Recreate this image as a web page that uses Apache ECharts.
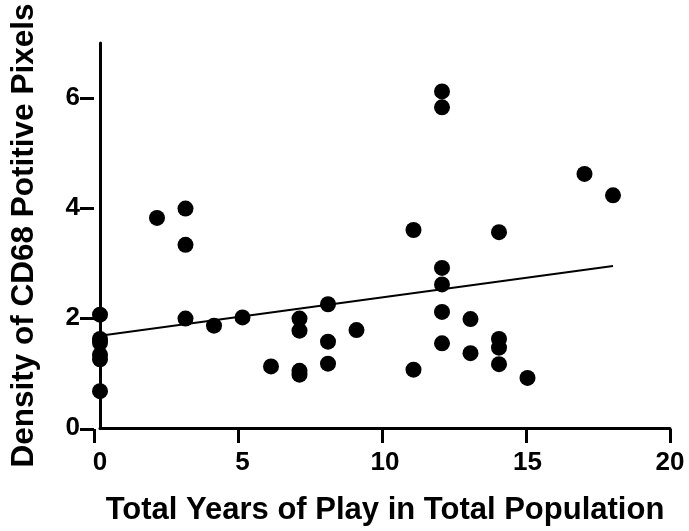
<!DOCTYPE html>
<html>
<head>
<meta charset="utf-8">
<script src="https://cdn.jsdelivr.net/npm/echarts@6/dist/echarts.min.js"></script>
<style>
html,body{margin:0;padding:0;background:#fff;}
#chart{width:689px;height:531px;}
</style>
</head>
<body>
<div id="chart"></div>
<script>
// Data
const yearsOfPlay = [0,0,0,0,0,0, 2, 3,3,3, 4, 5, 6, 7,7,7,7, 8,8,8, 9, 11,11, 12,12,12,12,12,12, 13,13, 14,14,14,14, 15, 17, 18];
const cd68Density = [2.06,1.62,1.55,1.33,1.25,0.67, 3.82, 3.99,3.33,1.99, 1.86, 2.01, 1.12, 1.99,1.77,1.04,0.97, 2.25,1.57,1.17, 1.78, 3.60,1.06, 6.12,5.83,2.91,2.61,2.11,1.54, 1.98,1.36, 3.56,1.62,1.46,1.16, 0.91, 4.62, 4.23];
const xTicks = [0,5,10,15,20];
const yTicks = [0,2,4,6];
const yTop = 7;

const points = yearsOfPlay.map((x,i)=>[x, cd68Density[i]]);

// least-squares fit over the data range
const n = points.length;
const mx = yearsOfPlay.reduce((a,b)=>a+b,0)/n;
const my = cd68Density.reduce((a,b)=>a+b,0)/n;
let sxy=0, sxx=0;
for (let i=0;i<n;i++){ sxy += (yearsOfPlay[i]-mx)*(cd68Density[i]-my); sxx += (yearsOfPlay[i]-mx)**2; }
const slope = sxy/sxx, intercept = my - slope*mx;
const xMin = Math.min(...yearsOfPlay), xMax = Math.max(...yearsOfPlay);
const fitLine = [[xMin, intercept+slope*xMin],[xMax, intercept+slope*xMax]];

// layout
const G = {left:94, right:19, top:43, bottom:102};
const plotH = 531 - G.top - G.bottom;
const yLast = yTicks[yTicks.length-1];
// second grid ends exactly at the last labelled y tick, used only to draw the tick marks
const tickGridTop = G.top + plotH * (yTop - yLast) / (yTop - yTicks[0]);

const FONT = '"Liberation Sans", Arial, Helvetica, sans-serif';
const chart = echarts.init(document.getElementById('chart'));
chart.setOption({
  animation:false,
  backgroundColor:'#fff',
  grid:[
    {left:G.left, right:G.right, top:G.top, bottom:G.bottom},
    {left:G.left, right:G.right, top:tickGridTop, bottom:G.bottom}
  ],
  xAxis:[{
    gridIndex:0,
    type:'value', min:xTicks[0], max:xTicks[xTicks.length-1], interval:xTicks[1]-xTicks[0],
    name:'Total Years of Play in Total Population',
    nameLocation:'middle', nameGap:67,
    nameTextStyle:{fontFamily:FONT, fontWeight:'bold', fontSize:31, color:'#000'},
    axisLine:{show:true, lineStyle:{color:'#000', width:3}},
    axisTick:{show:false},
    axisLabel:{fontFamily:FONT, fontWeight:'bold', fontSize:26, color:'#000', margin:22},
    splitLine:{show:false}
  },{
    gridIndex:1, position:'bottom', offset:0,
    type:'value', min:xTicks[0], max:xTicks[xTicks.length-1], interval:xTicks[1]-xTicks[0],
    axisLine:{show:false},
    axisTick:{show:true, length:14, lineStyle:{color:'#000', width:3}},
    axisLabel:{show:false},
    splitLine:{show:false}
  }],
  yAxis:[{
    gridIndex:0,
    type:'value', min:yTicks[0], max:yTop, interval:yTicks[1]-yTicks[0],
    name:'Density of CD68 Potitive Pixels',
    nameLocation:'middle', nameGap:60,
    nameTextStyle:{fontFamily:FONT, fontWeight:'bold', fontSize:31.5, color:'#000'},
    axisLine:{show:true, lineStyle:{color:'#000', width:3}},
    axisTick:{show:false},
    axisLabel:{fontFamily:FONT, fontWeight:'bold', fontSize:26, color:'#000', margin:20,
      showMaxLabel:false,
      formatter:(v)=> yTicks.indexOf(v) >= 0 ? String(v) : ''},
    splitLine:{show:false}
  },{
    gridIndex:1, position:'left', offset:0,
    type:'value', min:yTicks[0], max:yLast, interval:yTicks[1]-yTicks[0],
    axisLine:{show:false},
    axisTick:{show:true, length:14, lineStyle:{color:'#000', width:3}},
    axisLabel:{show:false},
    splitLine:{show:false}
  }],
  series:[
    {type:'scatter', xAxisIndex:0, yAxisIndex:0, data:points, symbol:'circle', symbolSize:16, itemStyle:{color:'#000', opacity:1}},
    {type:'line', xAxisIndex:0, yAxisIndex:0, data:fitLine, showSymbol:false, symbol:'none', lineStyle:{color:'#000', width:2}}
  ]
});
</script>
</body>
</html>
